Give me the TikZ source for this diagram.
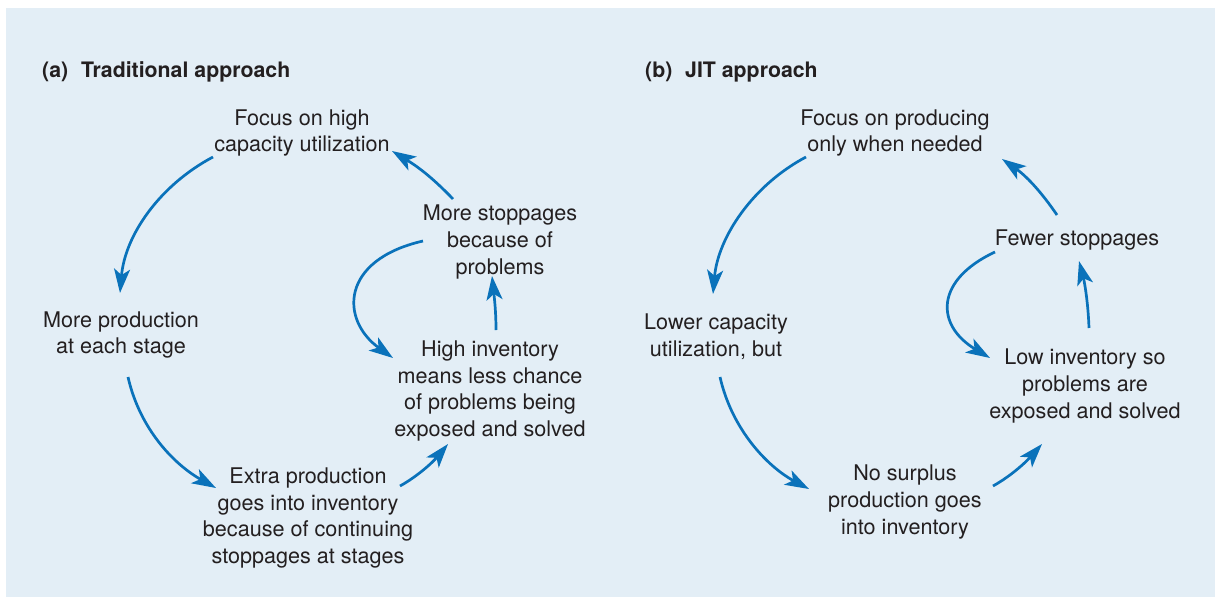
\documentclass[tikz,border=0pt]{standalone}
\usepackage{fontspec}
\setmainfont{TeX Gyre Heros}
\usetikzlibrary{arrows.meta}
\definecolor{bgblue}{HTML}{E3EEF6}
\definecolor{arrowblue}{HTML}{0A72BA}
\definecolor{txt}{HTML}{231F20}
\tikzset{
  lbl/.style={align=center, inner sep=0pt, text=txt, font=\fontsize{21.6}{26.7}\selectfont},
  ttl/.style={anchor=base west, inner sep=0pt, text=txt, font=\fontsize{21.3}{26.7}\selectfont\bfseries},
  flow/.style={draw=arrowblue, line width=2.7pt, -{Stealth[length=24pt,width=16pt,inset=6pt]}}
}
\begin{document}
\begin{tikzpicture}[x=1pt,y=-1pt]
\useasboundingbox (0,0) rectangle (1215,597);
\fill[white] (0,0) rectangle (1215,597);
\fill[bgblue] (6,8) rectangle (1215,597);

% titles
\node[ttl] (ta) at (42,77) {(a)\hspace{0.6em}Traditional approach};
\node[ttl] (tb) at (645,77) {(b)\hspace{0.6em}JIT approach};

% (a) nodes
\node[lbl] (a1) at (302,133) {Focus on high\\capacity utilization};
\node[lbl] (a2) at (121,335) {More production\\at each stage};
\node[lbl] (a3) at (308,518) {Extra production\\goes into inventory\\because of continuing\\stoppages at stages};
\node[lbl] (a4) at (490,391) {High inventory\\means less chance\\of problems being\\exposed and solved};
\node[lbl] (a5) at (500,242) {More stoppages\\because of\\problems};

% (b) nodes
\node[lbl] (b1) at (895,133) {Focus on producing\\only when needed};
\node[lbl] (b2) at (716,337) {Lower capacity\\utilization, but};
\node[lbl] (b3) at (905,502) {No surplus\\production goes\\into inventory};
\node[lbl] (b4) at (1085,386) {Low inventory so\\problems are\\exposed and solved};
\node[lbl] (b5) at (1077,240) {Fewer stoppages};

% connector ends (a)
\coordinate (a1s) at (213,157); \coordinate (a2e) at (120,293);
\coordinate (a2s) at (128,377); \coordinate (a3e) at (216,488);
\coordinate (a3s) at (400,486); \coordinate (a4e) at (448,444);
\coordinate (a4s) at (496,330); \coordinate (a5e) at (492,276);
\coordinate (a5s) at (423,241); \coordinate (a4w) at (393,358);
\coordinate (a5n) at (453,199); \coordinate (a1e) at (392,151);
% connector ends (b)
\coordinate (b1s) at (806,157); \coordinate (b2e) at (713,294);
\coordinate (b2s) at (720,377); \coordinate (b3e) at (809,489);
\coordinate (b3s) at (993,486); \coordinate (b4e) at (1042,444);
\coordinate (b4s) at (1089,328); \coordinate (b5e) at (1079,261);
\coordinate (b5s) at (995,252); \coordinate (b4w) at (990,358);
\coordinate (b5n) at (1057,215); \coordinate (b1e) at (1002,159);

% (a) connectors
\draw[flow] (a1s) .. controls (160,185) and (125,235) .. (a2e);
\draw[flow] (a2s) .. controls (140,430) and (175,465) .. (a3e);
\draw[flow] (a3s) .. controls (418,476) and (433,462) .. (a4e);
\draw[flow] (a4s) .. controls (496,310) and (494,295) .. (a5e);
\draw[flow] (a5s) .. controls (340,260) and (340,320) .. (a4w);
\draw[flow] (a5n) .. controls (430,175) and (415,165) .. (a1e);

% (b) connectors
\draw[flow] (b1s) .. controls (753,185) and (718,237) .. (b2e);
\draw[flow] (b2s) .. controls (732,430) and (768,467) .. (b3e);
\draw[flow] (b3s) .. controls (1011,476) and (1026,462) .. (b4e);
\draw[flow] (b4s) .. controls (1088,300) and (1084,280) .. (b5e);
\draw[flow] (b5s) .. controls (935,280) and (935,325) .. (b4w);
\draw[flow] (b5n) .. controls (1040,190) and (1025,175) .. (b1e);
\end{tikzpicture}
\end{document}
